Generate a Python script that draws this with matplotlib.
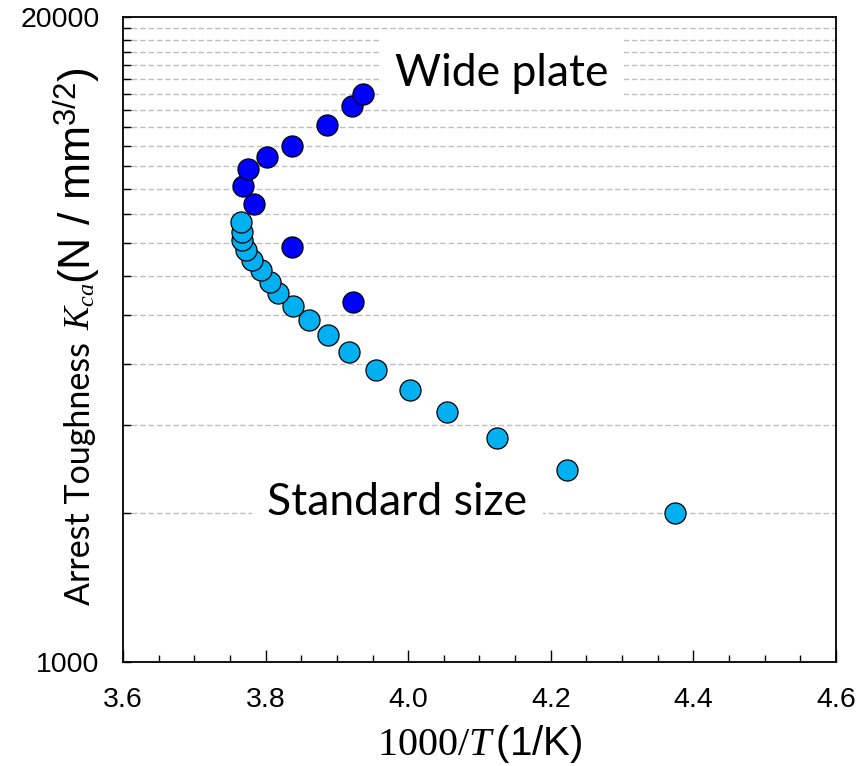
import matplotlib.pyplot as plt
from matplotlib.ticker import FixedLocator, MultipleLocator, NullFormatter

# standard-size specimens (1000/T, Kca)
std_x = [4.374, 4.223, 4.124, 4.055, 4.003, 3.955, 3.917, 3.887, 3.861, 3.839,
         3.817, 3.806, 3.794, 3.781, 3.772, 3.767, 3.767, 3.765]
std_k = [2000, 2440, 2827, 3188, 3532, 3880, 4225, 4565, 4895, 5230,
         5540, 5850, 6175, 6470, 6775, 7100, 7370, 7705]

# wide plate tests
wide_x = [3.922, 3.837, 3.784, 3.769, 3.775, 3.802, 3.837, 3.886, 3.921, 3.937]
wide_k = [5315, 6860, 8400, 9130, 9860, 10440, 10990, 12110, 13240, 13980]

plt.rcParams["mathtext.fontset"] = "custom"
plt.rcParams["mathtext.rm"] = "Liberation Serif"
plt.rcParams["mathtext.it"] = "Liberation Serif:italic"
plt.rcParams["mathtext.sf"] = "Liberation Sans"

fig = plt.figure(figsize=(8.68, 7.66), dpi=100)
ax = fig.add_axes([0.1417, 0.1358, 0.8214, 0.8420])

ax.scatter(std_x, std_k, s=230, color="#00B0F0", edgecolors="black", linewidths=0.9, zorder=3)
ax.scatter(wide_x, wide_k, s=230, color="#0000FF", edgecolors="black", linewidths=0.9, zorder=3)

ax.set_yscale("log")
ax.set_xlim(3.6, 4.6)
ax.set_ylim(1000, 20000)

ax.yaxis.set_major_locator(FixedLocator([1000, 20000]))
ax.yaxis.set_major_formatter(plt.FixedFormatter(["1000", "20000"]))
ax.yaxis.set_minor_locator(FixedLocator(list(range(2000, 20000, 1000))))
ax.yaxis.set_minor_formatter(NullFormatter())
ax.grid(True, which="minor", axis="y", color="#BFBFBF", linestyle=(0, (4, 2)), linewidth=1.0)

ax.xaxis.set_major_locator(MultipleLocator(0.2))
ax.xaxis.set_minor_locator(MultipleLocator(0.05))
ax.xaxis.set_major_formatter(plt.FuncFormatter(lambda v, p: f"{v:.1f}"))

ax.tick_params(which="both", direction="in", top=False, right=False, width=1.0,
               labelsize=20.5, labelfontfamily="Liberation Sans")
ax.tick_params(axis="x", which="major", length=9, pad=18)
ax.tick_params(axis="x", which="minor", length=5)
ax.tick_params(axis="y", which="both", length=6, pad=17)
for s in ax.spines.values():
    s.set_linewidth(1.3)

ax.set_xlabel(r"$1000/T\,\mathsf{(1/K)}$", fontsize=29, labelpad=7)

# y label: pieces with different fonts/sizes, laid end to end
ylab_x = 90 / 868
fig.text(ylab_x, 1 - 605 / 766, "Arrest Toughness", fontsize=24.5, family="Lato",
         rotation=90, rotation_mode="anchor", ha="left", va="baseline")
fig.text(ylab_x, 1 - 330 / 766, r"$K_{ca}$", fontsize=25,
         rotation=90, rotation_mode="anchor", ha="left", va="baseline")
fig.text(ylab_x, 1 - 284 / 766, r"(N / mm$^{\mathsf{3/2}}$)", fontsize=32,
         family="Liberation Sans", rotation=90, rotation_mode="anchor", ha="left", va="baseline")

ax.text(0.531, 0.913, "Wide plate", transform=ax.transAxes, fontsize=32, family="Lato",
        ha="center", va="center", zorder=4,
        bbox=dict(boxstyle="square,pad=0.35", facecolor="white", edgecolor="none"))
ax.text(0.385, 0.247, "Standard size", transform=ax.transAxes, fontsize=32, family="Lato",
        ha="center", va="center", zorder=4,
        bbox=dict(boxstyle="square,pad=0.35", facecolor="white", edgecolor="none"))

fig.savefig("out.png", dpi=100)
